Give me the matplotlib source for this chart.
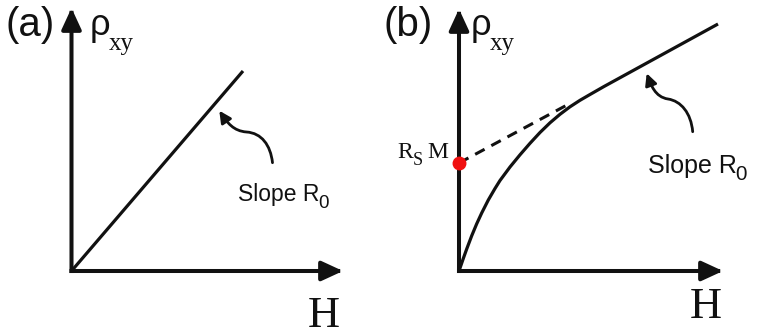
import matplotlib
matplotlib.use("Agg")
import matplotlib.pyplot as plt
from matplotlib.patches import FancyArrowPatch
from matplotlib.path import Path

# panel (a): ordinary Hall effect, straight line through origin
line_a_h = [0.0, 1.715]
line_a_rho = [0.0, 2.0]

# panel (b): anomalous Hall effect, saturating curve with linear high-field part
curve_b_h = [0.0, 0.043, 0.077, 0.127, 0.177, 0.227, 0.293, 0.36, 0.41,
             0.51, 0.61, 0.71, 0.81, 0.91, 1.01, 1.11, 1.21, 1.31, 1.45, 2.59]
curve_b_rho = [0.0, 0.125, 0.22, 0.352, 0.472, 0.58, 0.71, 0.825, 0.905,
               1.04, 1.162, 1.277, 1.385, 1.482, 1.567, 1.642, 1.707, 1.765,
               1.845, 2.47]
# extrapolation of the high-field line back to H = 0
dash_h = [0.0, 1.08]
dash_rho = [1.08, 1.66]
rsm_value = 1.08

# curly pointer paths (tail -> tip), cubic bezier control points
curl_a = [(2.01, 1.083), (1.99, 1.26), (1.90, 1.38), (1.75, 1.39),
          (1.62, 1.40), (1.56, 1.48), (1.478, 1.603)]
curl_b = [(2.337, 1.393), (2.32, 1.58), (2.22, 1.70), (2.09, 1.72),
          (1.96, 1.74), (1.92, 1.86), (1.877, 1.977)]

SANS = "Liberation Sans"
SERIF = "Liberation Serif"
INK = "#111111"

fig = plt.figure(figsize=(7.59, 3.35), dpi=100)
ax_a = fig.add_axes([0, 0, 0.5, 1])
ax_b = fig.add_axes([0.5, 0, 0.5, 1])
ax_a.set_xlim(-0.715, 3.08)
ax_b.set_xlim(-0.795, 3.0)
for ax in (ax_a, ax_b):
    ax.set_ylim(-0.64, 2.71)
    ax.axis("off")


def draw_axes(ax, x_tip, y_tip):
    style = "-|>,head_length=13,head_width=6"
    for tip in [(x_tip, 0), (0, y_tip)]:
        ax.annotate("", xy=tip, xytext=(0, 0),
                    arrowprops=dict(arrowstyle=style, mutation_scale=1,
                                    lw=2.9, color=INK, shrinkA=0, shrinkB=0,
                                    capstyle="projecting"))


def draw_curl(ax, pts):
    codes = [Path.MOVETO] + [Path.CURVE4] * (len(pts) - 1)
    arrow = FancyArrowPatch(path=Path(pts, codes),
                            arrowstyle="-|>,head_length=7,head_width=3.5",
                            mutation_scale=1, lw=2.0, color=INK)
    ax.add_patch(arrow)


def draw_labels(ax, tag, tag_x, rho_x, h_x, h_y):
    ax.text(tag_x, 2.46, tag, family=SANS, fontsize=29, va="center",
            ha="left", color=INK)
    ax.text(rho_x, 2.36, "\u03c1", family=SANS, fontsize=26, va="baseline",
            color=INK)
    ax.text(rho_x + 0.19, 2.21, "xy", family=SERIF, fontsize=18,
            va="baseline", color=INK)
    ax.text(h_x, h_y, "H", family=SERIF, fontsize=32, va="baseline",
            ha="center", color=INK)


def slope_label(ax, x, y, size):
    # "Slope R" with a large subscript 0 placed right after it
    t = ax.text(x, y, "Slope R", family=SANS, fontsize=size, va="baseline",
                color=INK)
    fig.canvas.draw()
    bb = t.get_window_extent()
    x_end = ax.transData.inverted().transform((bb.x1, bb.y0))[0]
    ax.text(x_end - 0.015, y - 0.07, "0", family=SANS, fontsize=size * 0.82,
            va="baseline", color=INK)


# (a)
draw_axes(ax_a, 2.715, 2.63)
ax_a.plot(line_a_h, line_a_rho, color=INK, lw=2.3, solid_capstyle="butt")
draw_curl(ax_a, curl_a)
draw_labels(ax_a, "(a)", -0.66, 0.185, 2.525, -0.56)
slope_label(ax_a, 1.67, 0.70, 16.5)

# (b)
draw_axes(ax_b, 2.64, 2.62)
ax_b.plot(curve_b_h, curve_b_rho, color=INK, lw=2.3, solid_capstyle="butt",
          solid_joinstyle="round")
ax_b.plot(dash_h, dash_rho, color=INK, lw=2.2, linestyle=(0, (3.5, 2.5)))
ax_b.plot([0], [rsm_value], "o", color="#f01010", markersize=9, zorder=5,
          clip_on=False)
draw_curl(ax_b, curl_b)
draw_labels(ax_b, "(b)", -0.76, 0.12, 2.47, -0.47)
slope_label(ax_b, 1.89, 0.98, 18)
ax_b.text(-0.62, 1.13, "R", family=SERIF, fontsize=17, va="baseline",
          color=INK)
ax_b.text(-0.46, 1.06, "S", family=SERIF, fontsize=13, va="baseline",
          color=INK)
ax_b.text(-0.11, 1.13, "M", family=SERIF, fontsize=17, va="baseline",
          ha="right", color=INK)

fig.savefig("out.png", dpi=100)
